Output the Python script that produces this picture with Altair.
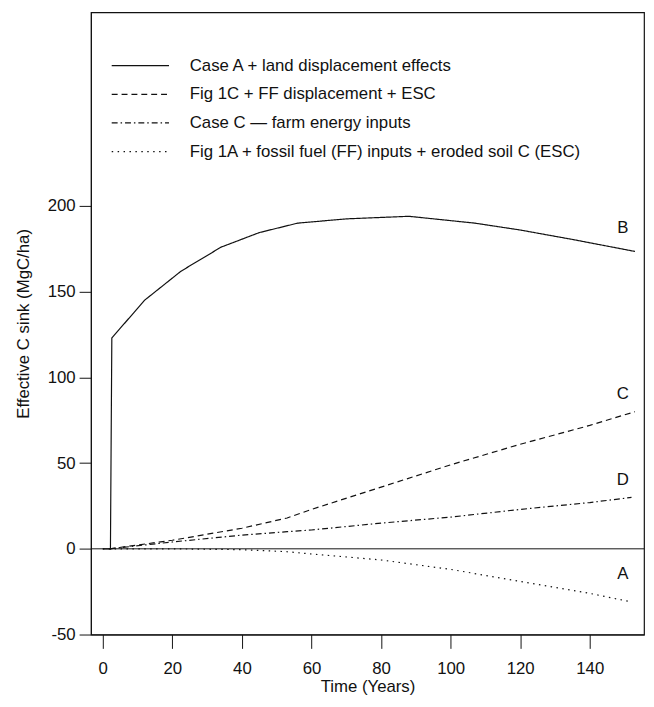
import altair as alt
import pandas as pd

# ---- data ----
series_names = [
    "Case A + land displacement effects",
    "Fig 1C + FF displacement + ESC",
    "Case C \u2014 farm energy inputs",
    "Fig 1A + fossil fuel (FF) inputs + eroded soil C (ESC)",
]
end_labels = ["B", "C", "D", "A"]

b_x = [0, 2.2, 2.6, 12, 22.5, 34, 45, 56, 70, 88, 107, 120, 135, 153]
b_y = [0, 0, 123, 145, 162, 176, 184.5, 190, 192.5, 194, 190, 186, 180.5, 173.5]

c_x = [2, 20, 40, 53, 60, 80, 100, 120, 140, 153]
c_y = [0, 5, 12, 18, 23, 36, 49, 61, 72, 80]

d_x = [2, 20, 40, 53, 60, 80, 100, 120, 140, 152]
d_y = [0, 4, 8, 10, 11, 15, 18.5, 23, 27, 30]

a_x = [0, 20, 40, 53, 60, 80, 100, 120, 140, 152]
a_y = [0, 0, -0.5, -1.7, -3, -6.5, -12, -19, -26, -31]

label_x = [149.5, 149.5, 149.5, 149.5]
label_y = [182, 85, 35, -20]

x_ticks = [0, 20, 40, 60, 80, 100, 120, 140]
y_ticks = [-50, 0, 50, 100, 150, 200]

rows = []
for name, xs, ys in zip(series_names, [b_x, c_x, d_x, a_x], [b_y, c_y, d_y, a_y]):
    for i, (x, y) in enumerate(zip(xs, ys)):
        rows.append({"series": name, "t": x, "v": y, "order": i})
df = pd.DataFrame(rows)

lab_df = pd.DataFrame({"t": label_x, "v": label_y, "text": end_labels})

FONT = "Liberation Sans"
x_scale = alt.Scale(domain=[-3.4, 155.6], nice=False, zero=False)
y_scale = alt.Scale(domain=[-50, 313], nice=False, zero=False)

lines = alt.Chart(df).mark_line(color="#111111", strokeWidth=1.2).encode(
    x=alt.X("t:Q", scale=x_scale,
            axis=alt.Axis(title="Time (Years)", values=x_ticks, grid=False,
                          labelExpr="datum.value + ''")),
    y=alt.Y("v:Q", scale=y_scale,
            axis=alt.Axis(title="Effective C sink (MgC/ha)", values=y_ticks, grid=False,
                          labelExpr="datum.value + ''")),
    order="order:Q",
    strokeDash=alt.StrokeDash(
        "series:N",
        scale=alt.Scale(domain=series_names,
                        range=[[1, 0], [6, 4], [6, 3, 1.5, 3], [1.5, 4.5]]),
        legend=alt.Legend(
            title=None, orient="none", legendX=20, legendY=43,
            symbolType="stroke", symbolSize=3364, symbolStrokeWidth=1.2,
            symbolStrokeColor="#111111", labelFont=FONT, labelFontSize=17,
            labelColor="#111111", labelLimit=600, labelOffset=20,
            clipHeight=22, rowPadding=7,
        ),
    ),
)

zero = alt.Chart(pd.DataFrame({"v": [0]})).mark_rule(color="#111111", strokeWidth=1).encode(
    y=alt.Y("v:Q", scale=y_scale)
)

labels = alt.Chart(lab_df).mark_text(
    font=FONT, fontSize=17, color="#111111", align="center", baseline="bottom"
).encode(
    x=alt.X("t:Q", scale=x_scale),
    y=alt.Y("v:Q", scale=y_scale),
    text="text:N",
)

chart = alt.layer(zero, lines, labels).properties(
    width=560, height=630,
    autosize=alt.AutoSizeParams(type="none"),
    padding={"left": 84, "top": 0, "right": 2, "bottom": 69},
).configure_view(
    stroke="#111111", strokeWidth=1.2
).configure_axis(
    domainColor="#111111", tickColor="#111111", labelColor="#111111",
    titleColor="#111111", labelFont=FONT, titleFont=FONT,
    labelFontSize=17, titleFontSize=17, titleFontWeight="normal",
    tickSize=12, labelPadding=4,
).configure_axisX(
    tickSize=14, labelPadding=12, titlePadding=3,
).configure_axisY(
    titlePadding=15,
)

chart.save("out.html", embed_options={"renderer": "svg", "actions": False})
